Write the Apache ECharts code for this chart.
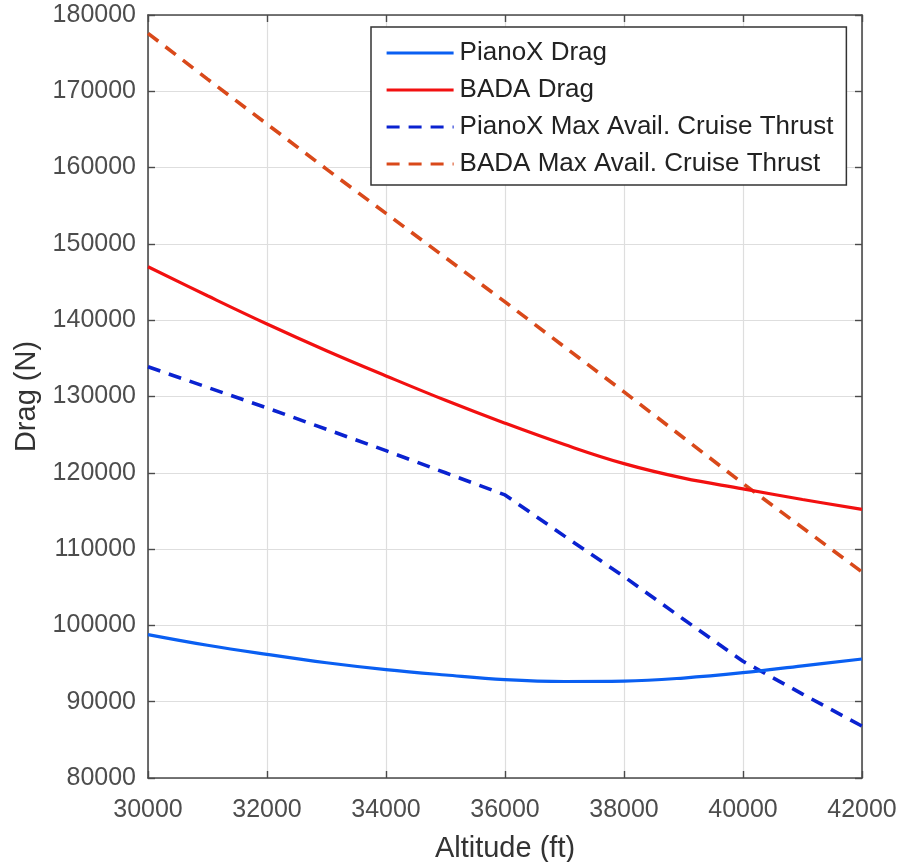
<!DOCTYPE html>
<html>
<head>
<meta charset="utf-8">
<script src="https://cdn.jsdelivr.net/npm/echarts@6/dist/echarts.min.js"></script>
<style>
html,body{margin:0;padding:0;background:#fff;}
#chart{width:902px;height:862px;}
</style>
</head>
<body>
<div id="chart"></div>
<script>
// Altitude (ft)
const altitudes = [30000, 31000, 32000, 33000, 34000, 35000, 36000, 37000, 38000, 39000, 40000, 41000, 42000];
// Drag / thrust (N)
const pianoxDrag   = [98800, 97400, 96200, 95100, 94200, 93500, 92900, 92650, 92700, 93100, 93800, 94700, 95600];
const badaDrag     = [147000, 143200, 139500, 136000, 132700, 129500, 126500, 123700, 121200, 119300, 117900, 116500, 115200];
const pianoxThrust = [133900, 131200, 128500, 125700, 122900, 120000, 117100, 111700, 106400, 100800, 95300, 91000, 86800];
const badaThrust   = [177600, 171600, 165700, 159800, 154000, 148200, 142400, 136500, 130600, 124600, 118600, 112800, 107000];

const seriesNames = ['PianoX Drag', 'BADA Drag', 'PianoX Max Avail. Cruise Thrust', 'BADA Max Avail. Cruise Thrust'];
const xTicks = {min: 30000, max: 42000, interval: 2000};
const yTicks = {min: 80000, max: 180000, interval: 10000};

function pairs(vals){ return altitudes.map((a,i)=>[a, vals[i]]); }

const axisCol = '#4a4a4a';
const labelCol = '#4d4d4d';
const font = 'Liberation Sans, Arial, Helvetica, sans-serif';
const plain = v => String(v);

const chart = echarts.init(document.getElementById('chart'), null, {renderer:'canvas'});
const baseX = {
  type:'value', min:xTicks.min, max:xTicks.max, interval:xTicks.interval,
  axisLine:{show:true, onZero:false, lineStyle:{color:axisCol, width:1.6}},
  axisTick:{show:true, inside:true, length:7, lineStyle:{color:axisCol, width:1.4}},
};
const baseY = {
  type:'value', min:yTicks.min, max:yTicks.max, interval:yTicks.interval,
  axisLine:{show:true, onZero:false, lineStyle:{color:axisCol, width:1.6}},
  axisTick:{show:true, inside:true, length:7, lineStyle:{color:axisCol, width:1.4}},
};
chart.setOption({
  animation:false,
  backgroundColor:'#fff',
  grid:{left:148, right:40, top:15, bottom:84, containLabel:false, outerBoundsMode:'none'},
  legend:{
    orient:'vertical', left:371, top:27,
    data:seriesNames,
    itemWidth:67, itemHeight:26, itemGap:11,
    padding:[13, 13, 8, 14],
    borderColor:'#333', borderWidth:1.5, backgroundColor:'#fff',
    itemStyle:{opacity:0},
    lineStyle:{width:3.2},
    textStyle:{fontFamily:font, fontSize:26, color:'#222', padding:[0,0,0,1]},
  },
  xAxis:[
    Object.assign({}, baseX, {
      position:'bottom',
      name:'Altitude (ft)', nameLocation:'middle', nameGap:56,
      nameTextStyle:{fontFamily:font, fontSize:29, color:'#333'},
      axisLabel:{fontFamily:font, fontSize:25, color:labelCol, margin:20, formatter:plain},
      splitLine:{show:true, lineStyle:{color:'#dedede', width:1.2}},
    }),
    Object.assign({}, baseX, {position:'top', axisLabel:{show:false}, splitLine:{show:false}}),
  ],
  yAxis:[
    Object.assign({}, baseY, {
      position:'left',
      name:'Drag (N)', nameLocation:'middle', nameGap:106,
      nameTextStyle:{fontFamily:font, fontSize:29, color:'#333'},
      axisLabel:{fontFamily:font, fontSize:25, color:labelCol, margin:12, formatter:plain, padding:[6,0,0,0]},
      splitLine:{show:true, lineStyle:{color:'#dedede', width:1.2}},
    }),
    Object.assign({}, baseY, {position:'right', axisLabel:{show:false}, splitLine:{show:false}}),
  ],
  series:[
    {name:seriesNames[0], type:'line', data:pairs(pianoxDrag), smooth:0.4, symbol:'none',
     color:'#0a5ff2', lineStyle:{color:'#0a5ff2', width:3.2}, z:3},
    {name:seriesNames[1], type:'line', data:pairs(badaDrag), smooth:0.4, symbol:'none',
     color:'#f21010', lineStyle:{color:'#f21010', width:3.2}, z:3},
    {name:seriesNames[2], type:'line', data:pairs(pianoxThrust), smooth:false, symbol:'none',
     color:'#0a22d0', lineStyle:{color:'#0a22d0', width:3.6, type:[13,9]}, z:2},
    {name:seriesNames[3], type:'line', data:pairs(badaThrust), smooth:false, symbol:'none',
     color:'#d9491a', lineStyle:{color:'#d9491a', width:3.6, type:[13,9]}, z:2},
  ]
});
</script>
</body>
</html>
